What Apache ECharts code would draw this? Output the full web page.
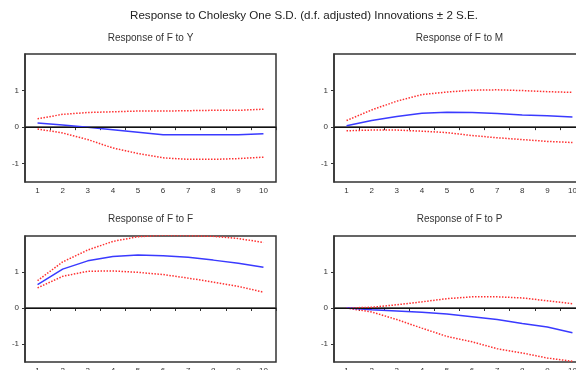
<!DOCTYPE html>
<html>
<head>
<meta charset="utf-8">
<script src="https://cdn.jsdelivr.net/npm/echarts@6/dist/echarts.min.js"></script>
<style>
html,body{margin:0;padding:0;background:#fff;}
#c{width:576px;height:370px;}
</style>
</head>
<body>
<div id="c"></div>
<script>
const periods = ['1','2','3','4','5','6','7','8','9','10'];
const yTickValues = [-1, 0, 1];
const mainTitle = 'Response to Cholesky One S.D. (d.f. adjusted) Innovations \u00b1 2 S.E.';
const panelTitles = ['Response of F to Y', 'Response of F to M', 'Response of F to F', 'Response of F to P'];

// Response of F to Y
const fyMid = [0.11, 0.06, 0.00, -0.07, -0.14, -0.21, -0.21, -0.21, -0.21, -0.18];
const fyUp  = [0.23, 0.35, 0.40, 0.42, 0.44, 0.44, 0.45, 0.46, 0.46, 0.49];
const fyLo  = [-0.05, -0.16, -0.34, -0.57, -0.72, -0.84, -0.88, -0.88, -0.86, -0.82];
// Response of F to M
const fmMid = [0.04, 0.18, 0.29, 0.38, 0.41, 0.40, 0.37, 0.33, 0.31, 0.28];
const fmUp  = [0.18, 0.47, 0.71, 0.89, 0.96, 1.01, 1.02, 1.00, 0.97, 0.95];
const fmLo  = [-0.10, -0.08, -0.08, -0.11, -0.15, -0.23, -0.29, -0.34, -0.39, -0.42];
// Response of F to F
const ffMid = [0.65, 1.08, 1.31, 1.43, 1.47, 1.45, 1.41, 1.33, 1.24, 1.13];
const ffUp  = [0.76, 1.28, 1.61, 1.85, 1.98, 2.02, 2.01, 1.99, 1.93, 1.82];
const ffLo  = [0.56, 0.88, 1.02, 1.03, 0.99, 0.93, 0.83, 0.72, 0.60, 0.44];
// Response of F to P
const fpMid = [0.00, -0.05, -0.08, -0.12, -0.17, -0.24, -0.32, -0.43, -0.53, -0.69];
const fpUp  = [0.00, 0.02, 0.09, 0.17, 0.26, 0.31, 0.31, 0.28, 0.20, 0.12];
const fpLo  = [0.00, -0.11, -0.32, -0.56, -0.79, -0.94, -1.13, -1.25, -1.39, -1.48];

const panels = [
  {mid: fyMid, up: fyUp, lo: fyLo},
  {mid: fmMid, up: fmUp, lo: fmLo},
  {mid: ffMid, up: ffUp, lo: ffLo},
  {mid: fpMid, up: fpUp, lo: fpLo}
];

const boxes = [
  {left: 25, top: 54, width: 251, height: 128},
  {left: 334, top: 54, width: 251, height: 128},
  {left: 25, top: 236, width: 251, height: 126},
  {left: 334, top: 236, width: 251, height: 126}
];
const subTitleY = [38, 38, 219, 219];

const FONT = '"Liberation Sans", Arial, sans-serif';
const grids = [], xAxes = [], yAxes = [], series = [], graphics = [];

graphics.push({type: 'text', x: 304, y: 16, style: {text: mainTitle, fontFamily: FONT, fontSize: 11.6, fill: '#222', textAlign: 'center', textVerticalAlign: 'middle'}});

boxes.forEach((b, i) => {
  grids.push(Object.assign({show: true, borderColor: '#333', borderWidth: 1.5, backgroundColor: 'transparent', containLabel: false, outerBoundsMode: 'none'}, b));
  graphics.push({type: 'text', x: b.left + b.width / 2, y: subTitleY[i], style: {text: panelTitles[i], fontFamily: FONT, fontSize: 10, fill: '#333', textAlign: 'center', textVerticalAlign: 'middle'}});
  xAxes.push({
    type: 'category', gridIndex: i, data: periods, boundaryGap: true,
    axisLine: {show: true, lineStyle: {color: '#333', width: 1.5}},
    axisTick: {show: true, length: 3, inside: false, lineStyle: {color: '#333', width: 1}},
    axisLabel: {fontFamily: FONT, fontSize: 8, color: '#333', margin: 5},
    splitLine: {show: false}
  });
  yAxes.push({
    type: 'value', gridIndex: i, min: -1.5, max: 2,
    axisLine: {show: true, lineStyle: {color: '#333', width: 1.5}},
    axisTick: {show: true, length: 3, inside: false, customValues: yTickValues, lineStyle: {color: '#333', width: 1}},
    axisLabel: {fontFamily: FONT, fontSize: 8, color: '#333', margin: 6, customValues: yTickValues},
    splitLine: {show: false}
  });
  const p = panels[i];
  series.push({
    type: 'line', xAxisIndex: i, yAxisIndex: i, data: p.up, symbol: 'none', silent: true,
    lineStyle: {color: '#ff3030', width: 1.5, type: 'dotted'}
  });
  series.push({
    type: 'line', xAxisIndex: i, yAxisIndex: i, data: p.lo, symbol: 'none', silent: true,
    lineStyle: {color: '#ff3030', width: 1.5, type: 'dotted'}
  });
  series.push({
    type: 'line', xAxisIndex: i, yAxisIndex: i, data: p.mid, symbol: 'none', silent: true,
    lineStyle: {color: '#3a3aff', width: 1.5},
    markLine: {silent: true, symbol: 'none', label: {show: false}, lineStyle: {color: '#111', width: 1.2, type: 'solid'}, data: [{yAxis: 0}]},
    z: 3
  });
});

const chart = echarts.init(document.getElementById('c'), null, {renderer: 'canvas'});
chart.setOption({
  animation: false,
  backgroundColor: '#fff',
  grid: grids, xAxis: xAxes, yAxis: yAxes, series: series, graphic: graphics
});
</script>
</body>
</html>
